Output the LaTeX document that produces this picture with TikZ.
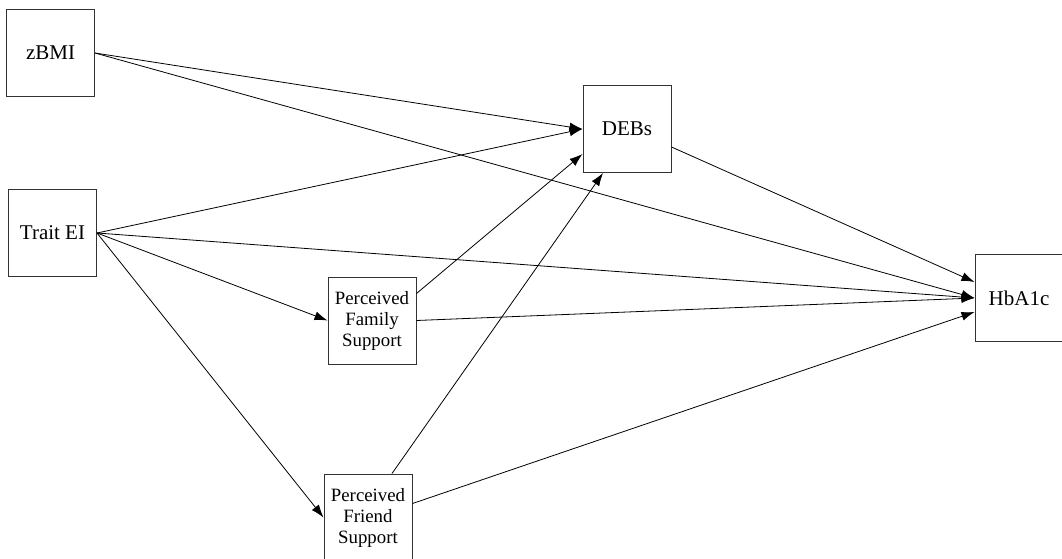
\documentclass[tikz,border=0pt]{standalone}
\usepackage{fontspec}
\setmainfont{Liberation Serif}
\usetikzlibrary{arrows.meta}
\begin{document}
\begin{tikzpicture}[x=1pt,y=-1pt,
		var/.style={draw=black!80,line width=1pt,minimum width=88pt,minimum height=87pt,inner sep=0pt,align=center,font=\fontsize{21}{24}\selectfont},
		small/.style={font=\fontsize{18.8}{21}\selectfont},
		link/.style={-{Latex[length=13pt,width=9pt]},line width=0.8pt}]
			\useasboundingbox (0,0) rectangle (1062,559);
			\node[var] (zbmi) at (50.5,53) {zBMI};
			\node[var] (trait) at (52.5,233) {Trait EI};
			\node[var] (debs) at (627,129) {DEBs};
			\node[var,small] (family) at (372,320.5) {Perceived\\Family\\Support};
			\node[var,small] (friend) at (368,517.5) {Perceived\\Friend\\Support};
			\node[var] (hba) at (1019,298) {HbA1c};
			\draw[link] (zbmi.east) -- (debs.west);
			\draw[link] (zbmi.east) -- (hba.west);
			\draw[link] (trait.east) -- (debs.west);
			\draw[link] (trait.east) -- (hba.west);
			\draw[link] (trait.east) -- (family.west);
			\draw[link] (trait.east) -- (friend.west);
			\draw[link] ([yshift=27pt]family.east) -- ([yshift=-25pt]debs.west);
			\draw[link] (family.east) -- (hba.west);
			\draw[link] ([xshift=24pt]friend.north) -- ([xshift=-24pt]debs.south);
			\draw[link] ([yshift=14pt]friend.east) -- ([yshift=-14pt]hba.west);
			\draw[link] ([yshift=-18pt]debs.east) -- ([yshift=16pt]hba.west);
		\end{tikzpicture}
\end{document}
